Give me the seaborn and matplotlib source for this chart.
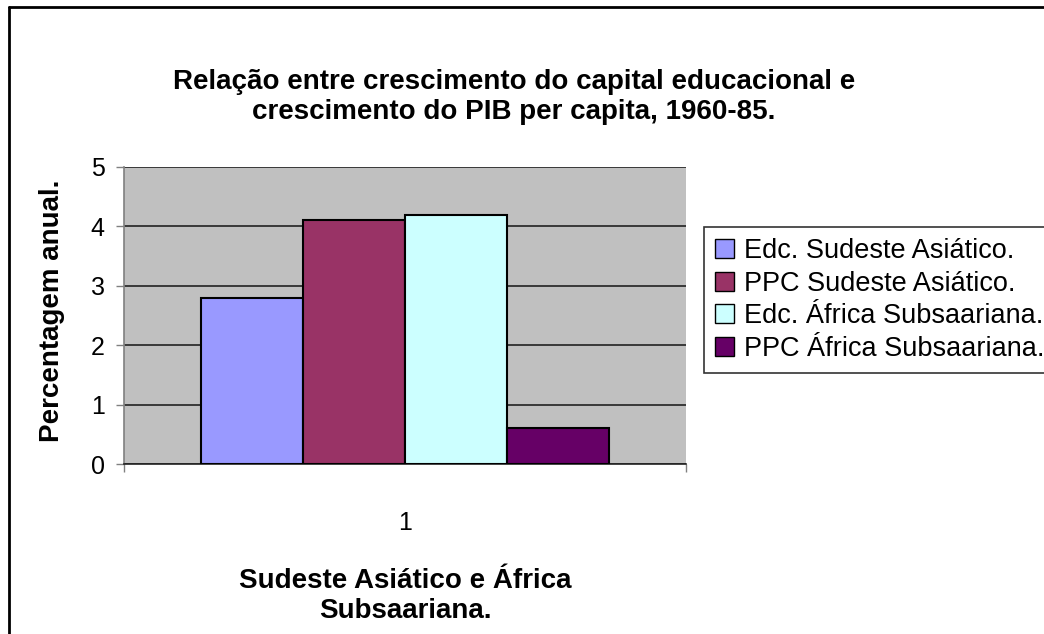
import pandas as pd
import seaborn as sns
import matplotlib.pyplot as plt
from matplotlib.lines import Line2D

# chart values
categories = ["1"]
series = ["Edc. Sudeste Asiático.", "PPC Sudeste Asiático.",
          "Edc. África Subsaariana.", "PPC África Subsaariana."]
values = [2.8, 4.1, 4.2, 0.6]
colors = ["#9999FF", "#993366", "#CCFFFF", "#660066"]

df = pd.DataFrame({"grupo": categories * len(series), "serie": series, "valor": values})

sns.set_style("white")
plt.rcParams["font.family"] = ["Liberation Sans", "DejaVu Sans"]
plt.rcParams["text.color"] = "black"
plt.rcParams["xtick.color"] = "black"
plt.rcParams["ytick.color"] = "black"

fig = plt.figure(figsize=(10.44, 6.34), dpi=100)
ax = fig.add_axes([124 / 1044, 1 - 464 / 634, 562 / 1044, 297 / 634])
ax.set_facecolor("#C0C0C0")

sns.barplot(data=df, x="grupo", y="valor", hue="serie", palette=colors, saturation=1,
            width=0.726, gap=0, edgecolor="black", linewidth=1.5, ax=ax,
            zorder=3)

ax.set_xlim(-0.5, 0.5)
ax.set_ylim(0, 5)
ax.set_yticks([0, 1, 2, 3, 4, 5])
ax.grid(axis="y", color="#222222", linewidth=1.2, zorder=0)
ax.set_axisbelow(True)
for s in ["top", "right"]:
    ax.spines[s].set_visible(False)
ax.spines["left"].set_color("#808080")
ax.spines["left"].set_linewidth(1.2)
ax.spines["bottom"].set_color("#222222")
ax.spines["bottom"].set_linewidth(1.2)
ax.tick_params(axis="y", length=6, width=1, color="#808080", labelsize=18, pad=8, left=True)
ax.tick_params(axis="x", length=0, labelsize=18, pad=34)
ax.set_xticks([-0.5, 0.5], minor=True)
ax.tick_params(axis="x", which="minor", length=6, width=1, color="#808080", bottom=True)
ax.set_xlabel("")
ax.set_ylabel("")

fig.text(514 / 1044, 1 - 97 / 634,
         "Relação entre crescimento do capital educacional e\ncrescimento do PIB per capita, 1960-85.",
         ha="center", va="center", fontsize=20, fontweight="bold", linespacing=1.2)
fig.text(52 / 1044, 1 - 311 / 634, "Percentagem anual.", rotation=90,
         ha="center", va="center", fontsize=20, fontweight="bold")
fig.text(405 / 1044, 1 - 596 / 634, "Sudeste Asiático e África\nSubsaariana.",
         ha="center", va="center", fontsize=20, fontweight="bold", linespacing=1.25)

leg = ax.legend(loc="upper left", bbox_to_anchor=(704 / 1044, 1 - 227 / 634),
                bbox_transform=fig.transFigure, borderaxespad=0, fontsize=19.5,
                handlelength=0.7, handleheight=0.7, handletextpad=0.37,
                labelspacing=0.25, borderpad=0.4, frameon=True, fancybox=False)
leg.get_frame().set_edgecolor("black")
leg.get_frame().set_linewidth(1.2)
for h in leg.legend_handles:
    h.set_linewidth(1.0)

# outer chart frame (left and top edges only visible)
fig.add_artist(Line2D([9 / 1044, 9 / 1044], [0, 1 - 7 / 634], transform=fig.transFigure,
                      color="black", linewidth=2))
fig.add_artist(Line2D([9 / 1044, 1], [1 - 7 / 634, 1 - 7 / 634], transform=fig.transFigure,
                      color="black", linewidth=2))

fig.savefig("out.png", dpi=100)
